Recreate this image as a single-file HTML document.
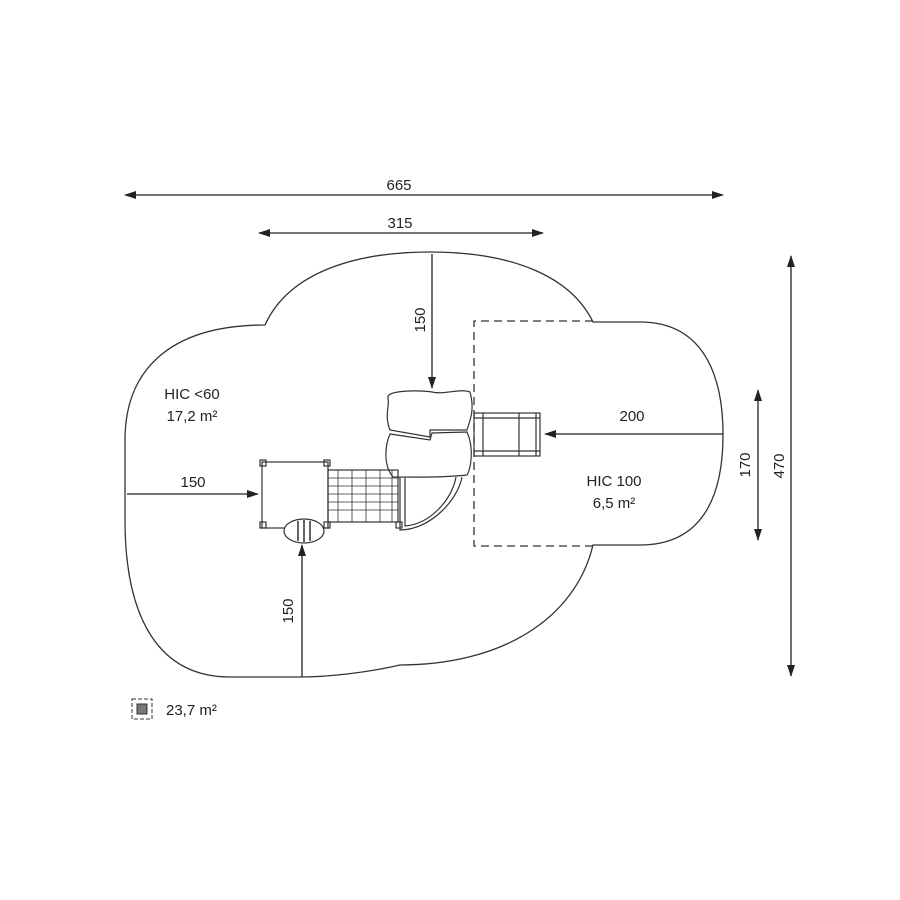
<!DOCTYPE html>
<html><head><style>body{margin:0;background:#fff}svg{display:block}text{font-family:"Liberation Sans",sans-serif;fill:#222}</style></head><body>
<svg width="900" height="900" viewBox="0 0 900 900" xmlns="http://www.w3.org/2000/svg">
<defs><marker id="a" markerWidth="12" markerHeight="8" refX="11" refY="4" orient="auto-start-reverse" markerUnits="userSpaceOnUse"><path d="M0,0 L12,4 L0,8 Z" fill="#222"/></marker></defs>
<g fill="none" stroke="#333" stroke-width="1.3">
<path d="M265,325 C290,270 360,252 430,252 C510,252 570,275 593,322 L640,322 C700,322 723,370 723,435 C723,500 700,545 640,545 L593,545 C575,620 500,665 400,665 C370,672 330,677 300,677 L230,677 C160,677 125,620 125,520 L125,440 C125,370 170,325 265,325 Z"/>
<path d="M593,321 L474,321 L474,546 L593,546" stroke-dasharray="8,5"/>
</g>
<g stroke="#222" stroke-width="1.3" marker-start="url(#a)" marker-end="url(#a)">
<line x1="125" y1="195" x2="723" y2="195"/>
<line x1="259" y1="233" x2="543" y2="233"/>
<line x1="791" y1="256" x2="791" y2="676"/>
<line x1="758" y1="390" x2="758" y2="540"/>
</g>
<g stroke="#222" stroke-width="1.3" marker-end="url(#a)">
<line x1="432" y1="254" x2="432" y2="388"/>
<line x1="723" y1="434" x2="545" y2="434"/>
<line x1="127" y1="494" x2="258" y2="494"/>
<line x1="302" y1="677" x2="302" y2="545"/>
</g>
<text x="399" y="190" font-size="15" text-anchor="middle">665</text>
<text x="400" y="228" font-size="15" text-anchor="middle">315</text>
<text x="632" y="421" font-size="15" text-anchor="middle">200</text>
<text x="193" y="487" font-size="15" text-anchor="middle">150</text>
<text font-size="15" text-anchor="middle" transform="translate(425,320) rotate(-90)">150</text>
<text font-size="15" text-anchor="middle" transform="translate(293,611) rotate(-90)">150</text>
<text font-size="15" text-anchor="middle" transform="translate(750,465) rotate(-90)">170</text>
<text font-size="15" text-anchor="middle" transform="translate(784,466) rotate(-90)">470</text>
<text x="192" y="399" font-size="15" text-anchor="middle">HIC &lt;60</text>
<text x="192" y="421" font-size="15" text-anchor="middle">17,2 m²</text>
<text x="614" y="486" font-size="15" text-anchor="middle">HIC 100</text>
<text x="614" y="508" font-size="15" text-anchor="middle">6,5 m²</text>
<text x="166" y="715" font-size="15">23,7 m²</text>
<rect x="132" y="699" width="20" height="20" fill="none" stroke="#333" stroke-dasharray="4,2"/>
<rect x="137" y="704" width="10" height="10" fill="#777" stroke="#333"/>
<g fill="none" stroke="#333" stroke-width="1.2">
<path d="M388,398 C385,390 420,390 432,392 C445,395 460,388 470,392 C475,410 470,420 467,430 L430,430 L430,437 L390,430 C384,415 390,405 388,398 Z" fill="#fff"/>
<path d="M390,434 L430,440 L432,433 L467,432 C475,450 470,470 467,475 C440,478 410,477 393,477 C383,465 385,445 390,434 Z" fill="#fff"/>
<path d="M400,477 L400,530 C430,530 458,500 462,477" />
<path d="M405,477 L405,526 C430,524 452,500 456,477"/>
<rect x="474" y="413" width="66" height="43"/>
<line x1="474" y1="418" x2="540" y2="418"/><line x1="474" y1="451" x2="540" y2="451"/>
<line x1="483" y1="413" x2="483" y2="456"/><line x1="519" y1="413" x2="519" y2="456"/><line x1="536" y1="413" x2="536" y2="456"/>
<rect x="262" y="462" width="66" height="66" fill="#fff"/>
<rect x="260" y="460" width="6" height="6"/><rect x="324" y="460" width="6" height="6"/><rect x="260" y="522" width="6" height="6"/><rect x="324" y="522" width="6" height="6"/><rect x="396" y="522" width="6" height="6"/>
<rect x="328" y="470" width="70" height="52"/>
<path d="M328,478h70M328,486h70M328,494h70M328,502h70M328,510h70M338,470v52M352,470v52M366,470v52M380,470v52M392,470v52" stroke-width="0.8"/>
<ellipse cx="304" cy="531" rx="20" ry="12" fill="#fff"/>
<path d="M298,521v20M304,520v22M310,521v20" stroke-width="1.5"/>
</g>
</svg>
</body></html>
